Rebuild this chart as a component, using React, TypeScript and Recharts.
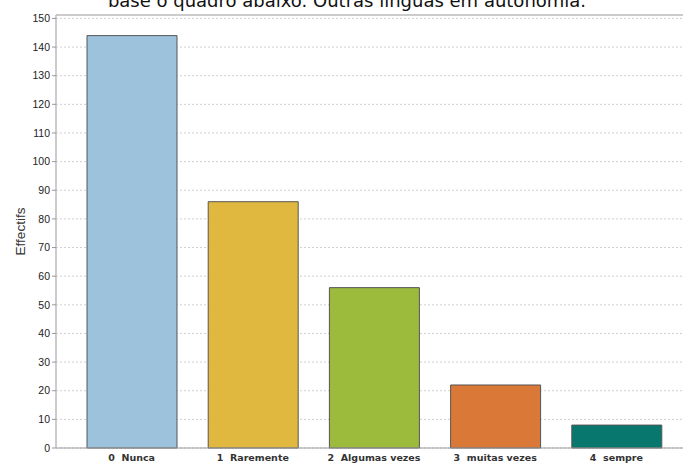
import React from 'react';
import { BarChart, Bar, XAxis, YAxis, CartesianGrid, Cell, ReferenceLine } from 'recharts';

const categories = ['0  Nunca', '1  Raremente', '2  Algumas vezes', '3  muitas vezes', '4  sempre'];
const values = [144, 86, 56, 22, 8];
const colors = ['#9DC2DC', '#E1B83F', '#9CBB3D', '#D97837', '#08786F'];
const yTicks = [0, 10, 20, 30, 40, 50, 60, 70, 80, 90, 100, 110, 120, 130, 140, 150];
const titleText = 'base o quadro abaixo. Outras línguas em autonomia.';
const yLabel = 'Effectifs';

const data = categories.map((c, i) => ({ name: c, value: values[i] }));

const XTick = (props: any) => {
  const { x, payload } = props;
  return (
    <text x={x} y={461} textAnchor="middle" fontFamily="DejaVu Sans, Verdana, sans-serif" fontSize={9.5} fontWeight="bold" fill="#333" style={{ whiteSpace: 'pre' }}>
      {payload.value}
    </text>
  );
};

export default function App() {
  return (
    <div style={{ position: 'absolute', left: 0, top: 0, width: 683, height: 463, overflow: 'hidden', background: '#fff' }}>
      <svg width={683} height={20} style={{ position: 'absolute', left: 0, top: 0 }}>
        <text x={347} y={7} textAnchor="middle" fontFamily="DejaVu Sans, Verdana, sans-serif" fontSize={18} fill="#111">
          {titleText}
        </text>
      </svg>
      <div style={{ position: 'absolute', left: 0, top: 0 }}>
        <BarChart width={683} height={463} data={data} margin={{ top: 15, right: 0, left: 0, bottom: 0 }} barCategoryGap={0}>
          <CartesianGrid vertical={false} stroke="#cfcfcf" strokeDasharray="2 2" />
          <XAxis
            dataKey="name"
            height={15}
            padding={{ left: 15, right: 6 }}
            tickLine={false}
            axisLine={{ stroke: '#999', strokeWidth: 1 }}
            tick={<XTick />}
            interval={0}
          />
          <YAxis
            width={56}
            domain={[0, 151.2]}
            ticks={yTicks}
            interval={0}
            tickSize={4}
            tickLine={{ stroke: '#999' }}
            axisLine={{ stroke: '#bbb', strokeWidth: 1.5 }}
            tick={{ fontSize: 10.5, fill: '#222', fontFamily: 'Liberation Sans, Arial, sans-serif' }}
            label={{ value: yLabel, angle: -90, position: 'insideLeft', offset: 20, style: { fontSize: 13.5, fill: '#333', fontFamily: 'Liberation Sans, Arial, sans-serif', textAnchor: 'middle' } }}
          />
          <ReferenceLine y={151.2} stroke="#cccccc" strokeWidth={2} />
          <Bar dataKey="value" barSize={90} stroke="#555" strokeWidth={1} isAnimationActive={false}>
            {data.map((d, i) => (
              <Cell key={d.name} fill={colors[i]} />
            ))}
          </Bar>
        </BarChart>
      </div>
    </div>
  );
}
